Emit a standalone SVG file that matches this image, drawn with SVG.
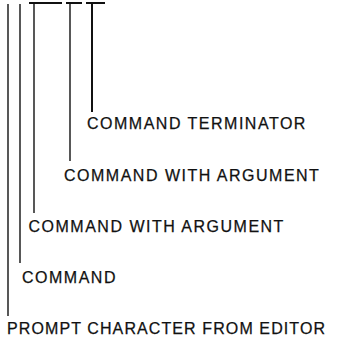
<svg xmlns="http://www.w3.org/2000/svg" width="347" height="344" viewBox="0 0 347 344">
<style>
.l{stroke:#111;stroke-width:1.4;fill:none}
.b{stroke:#111;stroke-width:2;fill:none}
.t{font-family:"Liberation Sans",Arial,sans-serif;font-size:16px;letter-spacing:1.5px;fill:#111;stroke:#111;stroke-width:0.25}
</style>
<rect width="347" height="344" fill="#fff"/>
<g id="connectors">
<line class="l" x1="8" y1="4" x2="8" y2="316"/>
<line class="l" x1="20" y1="4" x2="20" y2="263"/>
<line class="b" x1="29" y1="3" x2="62" y2="3"/>
<line class="l" x1="34" y1="3" x2="34" y2="213"/>
<line class="b" x1="66" y1="3" x2="82" y2="3"/>
<line class="l" x1="70" y1="3" x2="70" y2="161"/>
<line class="b" x1="86" y1="3" x2="105" y2="3"/>
<line class="b" x1="92" y1="3" x2="92" y2="112"/>
</g>
<g id="n-terminator"><text class="t" x="87" y="129">COMMAND TERMINATOR</text></g>
<g id="n-arg2"><text class="t" x="64" y="181">COMMAND WITH ARGUMENT</text></g>
<g id="n-arg1"><text class="t" x="28.5" y="232">COMMAND WITH ARGUMENT</text></g>
<g id="n-command"><text class="t" x="22" y="283">COMMAND</text></g>
<g id="n-prompt"><text class="t" x="7" y="334" style="letter-spacing:1.1px">PROMPT CHARACTER FROM EDITOR</text></g>
</svg>
